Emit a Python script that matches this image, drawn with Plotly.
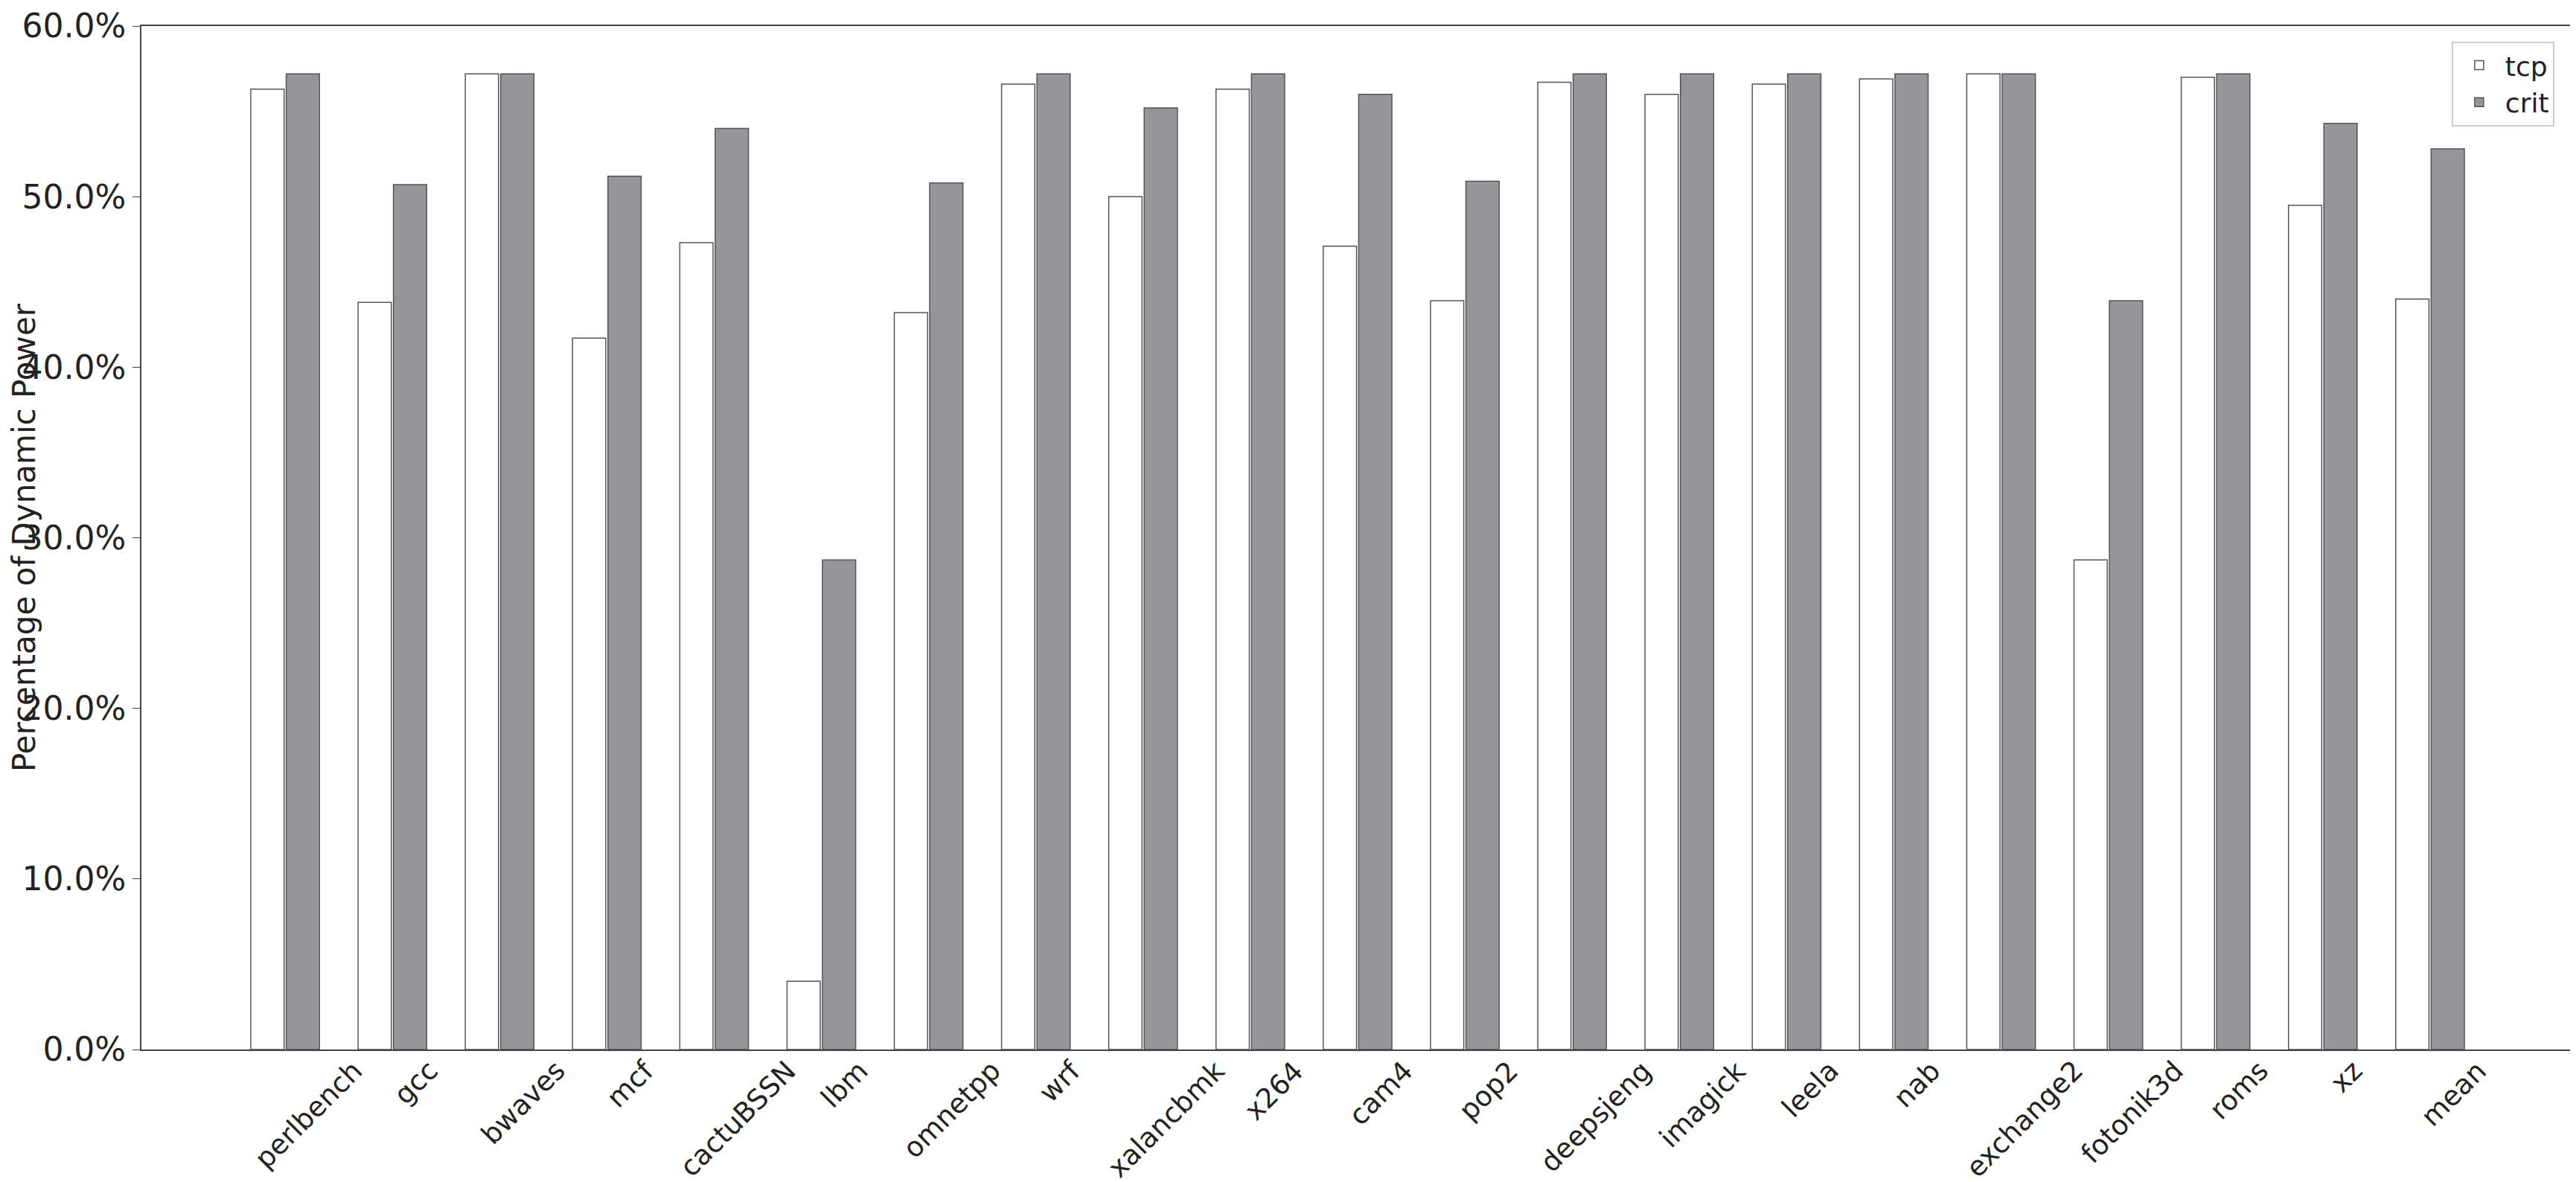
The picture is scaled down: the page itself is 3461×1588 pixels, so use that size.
import plotly.graph_objects as go

benchmarks = ["perlbench","gcc","bwaves","mcf","cactuBSSN","lbm","omnetpp","wrf","xalancbmk","x264",
              "cam4","pop2","deepsjeng","imagick","leela","nab","exchange2","fotonik3d","roms","xz","mean"]
tcp = [56.3,43.8,57.2,41.7,47.3,4.0,43.2,56.6,50.0,56.3,47.1,43.9,56.7,56.0,56.6,56.9,57.2,28.7,57.0,49.5,44.0]
crit = [57.2,50.7,57.2,51.2,54.0,28.7,50.8,57.2,55.2,57.2,56.0,50.9,57.2,57.2,57.2,57.2,57.2,43.9,57.2,54.3,52.8]
yticks = [0,10,20,30,40,50,60]

idx = list(range(len(benchmarks)))
w = 0.31
fig = go.Figure()
fig.add_bar(x=[i - 0.165 for i in idx], y=tcp, width=w, name="tcp",
            marker=dict(color="white", line=dict(color="#555", width=1.5)))
fig.add_bar(x=[i + 0.165 for i in idx], y=crit, width=w, name="crit",
            marker=dict(color="#96969a", line=dict(color="#555", width=1.5)))

for i, b in enumerate(benchmarks):
    fig.add_annotation(x=i + 0.22, y=-0.003, xref="x", yref="paper", text=b, showarrow=False,
                       textangle=-45, xanchor="center", yanchor="top",
                       font=dict(size=37, color="#222"))

fig.update_layout(
    width=3461, height=1588, plot_bgcolor="white", paper_bgcolor="white",
    margin=dict(l=182, r=11, t=27, b=186, autoexpand=False),
    font=dict(family="DejaVu Sans", color="#222"),
    barmode="overlay", showlegend=True,
    legend=dict(x=0.992, y=0.985, xanchor="right", yanchor="top", bordercolor="#ccc", borderwidth=2,
                font=dict(size=36), bgcolor="white", itemwidth=60),
)
fig.update_xaxes(range=[-1.34, len(benchmarks) - 1 + 1.34], showticklabels=False, ticks="",
                 showline=True, linecolor="#444", linewidth=2, mirror=True, showgrid=False,
                 automargin=False)
fig.update_yaxes(range=[0, 60], tickvals=yticks, ticktext=[f"{v:.1f}%" for v in yticks],
                 tickfont=dict(size=44), ticks="outside", ticklen=10, tickcolor="#444",
                 showline=True, linecolor="#444", linewidth=2, mirror=True, showgrid=False,
                 automargin=False,
                 title=dict(text="Percentage of Dynamic Power", font=dict(size=42), standoff=14))
fig.write_html("out.html")
